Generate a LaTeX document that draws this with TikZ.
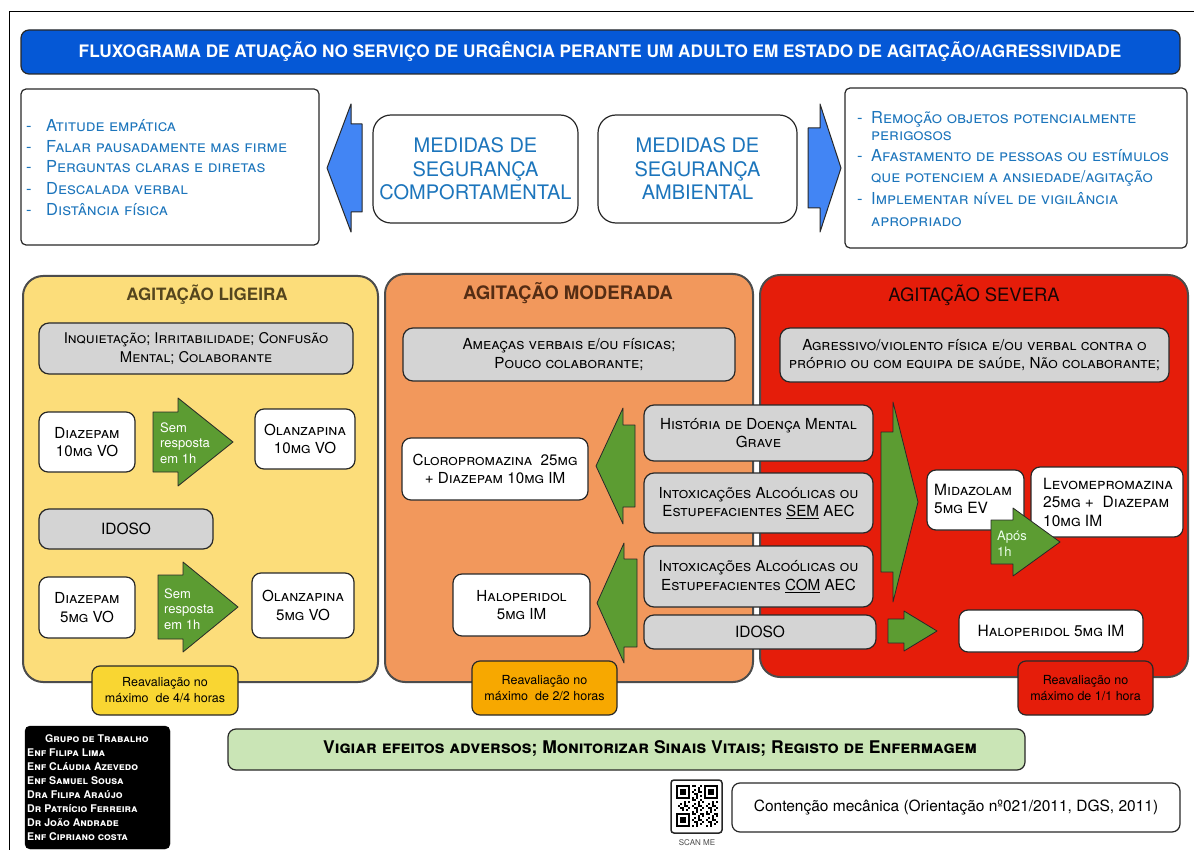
\documentclass[tikz,border=0pt]{standalone}
\usepackage{fontspec}
\setmainfont{TeX Gyre Heros}
\definecolor{titleblue}{RGB}{5,88,214}
\definecolor{textblue}{RGB}{28,117,188}
\definecolor{arrowblue}{RGB}{66,133,244}
\definecolor{panelyellow}{RGB}{252,221,122}
\definecolor{panelorange}{RGB}{242,152,92}
\definecolor{panelred}{RGB}{229,29,10}
\definecolor{reavyellow}{RGB}{249,214,50}
\definecolor{reavorange}{RGB}{247,168,0}
\definecolor{boxgray}{RGB}{212,212,212}
\definecolor{arrowgreen}{RGB}{92,156,50}
\definecolor{barGreen}{RGB}{202,229,182}
\definecolor{edge}{RGB}{40,40,40}
\definecolor{headY}{RGB}{85,70,30}
\definecolor{headO}{RGB}{85,45,20}
\definecolor{headR}{RGB}{25,5,5}
\newcommand\fs[2]{\fontsize{#1}{#2}\selectfont}
% box from its two corners: style, name, x1, y1, x2, y2, text
\newcommand\bx[7]{\node[#1, minimum width={(#5-#3)*1pt}, minimum height={(#6-#4)*1pt}] (#2) at ({(#3+#5)/2},{(#4+#6)/2}) {#7};}
% block arrow: style, base x, head x, tip x, centre y, body half height, head half height
\newcommand\blockarrow[7]{\path[#1] (#2,#5-#6) -- (#3,#5-#6) -- (#3,#5-#7) -- (#4,#5) -- (#3,#5+#7) -- (#3,#5+#6) -- (#2,#5+#6) -- cycle;}
\tikzset{
  base/.style={inner sep=0pt, outer sep=0pt, align=center},
  titlebar/.style={base, fill=titleblue, draw=edge, line width=1.2pt, rounded corners=8pt},
  infobox/.style={base, fill=white, draw=edge, line width=1.2pt, rounded corners=5pt},
  medbox/.style={base, fill=white, draw=edge, line width=1.2pt, rounded corners=18pt, text=textblue, font=\fs{20}{23.5}},
  panel/.style={base, draw=black!70, line width=2pt, rounded corners=20pt},
  graybox/.style={base, fill=boxgray, draw=edge, line width=1.2pt, rounded corners=10pt, font=\fs{15.2}{18.8}\scshape},
  drugbox/.style={base, fill=white, draw=edge, line width=1.2pt, rounded corners=9pt, font=\fs{15.2}{18.5}\scshape},
  reavbox/.style={base, draw=edge, line width=1.2pt, rounded corners=8pt, font=\fs{12.5}{16}},
  listtxt/.style={inner sep=0pt, anchor=base west, text=textblue, font=\fs{16.5}{18}\scshape},
  heading/.style={inner sep=0pt},
  gtxt/.style={inner sep=0pt, anchor=west, align=left, text=white, font=\fs{13}{15.5}},
  garrow/.style={fill=arrowgreen, draw=edge, line width=0.8pt, line join=round},
  barrow/.style={fill=arrowblue, draw=edge, line width=1pt, line join=round},
  namestxt/.style={inner sep=0pt, anchor=base west, text=white, font=\fs{10.6}{12}\bfseries\scshape}
}
\begin{document}
\begin{tikzpicture}[x=1pt, y=-1pt]
\useasboundingbox (0,0) rectangle (1194,850);
\fill[white] (0,0) rectangle (1194,850);
% page frame
\draw[line width=1pt] (9,850) -- (9,12) -- (1194,12);

% title
\bx{titlebar}{title}{21}{30}{1180}{74}{}
\node[inner sep=0pt, text=white, font=\fs{17.2}{19}\bfseries] (titletext) at (600,52) {FLUXOGRAMA DE ATUAÇÃO NO SERVIÇO DE URGÊNCIA PERANTE UM ADULTO EM ESTADO DE AGITAÇÃO/AGRESSIVIDADE};

% safety measures
\bx{infobox}{leftinfo}{21}{89}{319}{245}{}
\foreach \t/\yy [count=\i] in {Atitude empática/132, Falar pausadamente mas firme/153, Perguntas claras e diretas/173, Descalada verbal/195, Distância física/216}{
  \node[listtxt] (ld\i) at (26,\yy) {-};
  \node[listtxt] (lt\i) at (46,\yy) {\t};
}
\bx{medbox}{comport}{373}{115}{578}{223}{MEDIDAS DE\\SEGURANÇA\\COMPORTAMENTAL}
\bx{medbox}{ambient}{598}{115}{797}{223}{MEDIDAS DE\\SEGURANÇA\\AMBIENTAL}
\bx{infobox}{rightinfo}{845}{88}{1187}{248}{}
\foreach \yy [count=\i] in {124, 162, 205}{
  \node[listtxt] (rd\i) at (857,\yy) {-};
}
\foreach \t/\yy [count=\i] in {Remoção objetos potencialmente/124, perigosos/141, Afastamento de pessoas ou estímulos/162, {que potenciem a ansiedade/agitação}/183, Implementar nível de vigilância/205, apropriado/227}{
  \node[listtxt] (rt\i) at (871,\yy) {\t};
}
\blockarrow{barrow}{362}{351}{327}{168}{44}{64}
\blockarrow{barrow}{808}{820}{841}{168}{40}{64}

% panels
\bx{panel, fill=panelyellow}{mild}{23}{276}{378}{682}{}
\bx{panel, fill=panelorange}{moderate}{385}{274}{753}{682}{}
\bx{panel, fill=panelred}{severe}{760}{275}{1188}{677}{}
\node[heading, text=headY, font=\fs{17}{19}\bfseries] (hmild) at (207,295) {AGITAÇÃO LIGEIRA};
\node[heading, text=headO, font=\fs{18.6}{20}\bfseries] (hmod) at (568,293) {AGITAÇÃO MODERADA};
\node[heading, text=headR, font=\fs{18.4}{20}] (hsev) at (974,295) {AGITAÇÃO SEVERA};

% mild agitation
\bx{graybox, font=\fs{14.8}{18.5}\scshape}{gmild}{39}{323}{353}{374}{Inquietação; Irritabilidade; Confusão\\Mental; Colaborante}
\bx{drugbox}{dz10}{39}{412}{135}{472}{Diazepam\\10mg VO}
\bx{drugbox}{ol10}{255}{409}{355}{469}{Olanzapina\\10mg VO}
\bx{graybox, font=\fs{15.5}{18}}{idoso1}{39}{509}{213}{549}{IDOSO}
\bx{drugbox}{dz5}{39}{577}{135}{638}{Diazepam\\5mg VO}
\bx{drugbox}{ol5}{252}{573}{354}{638}{Olanzapina\\5mg VO}
\blockarrow{garrow}{153}{178}{233}{442}{30}{44}
\node[gtxt] (sem1) at (160,443) {Sem\\resposta\\em 1h};
\blockarrow{garrow}{158}{183}{238}{607}{32}{45}
\node[gtxt] (sem2) at (164,609) {Sem\\resposta\\em 1h};
\bx{reavbox, fill=reavyellow}{reav1}{92}{666}{238}{715}{Reavaliação no\\máximo~ de 4/4 horas}

% moderate agitation
\bx{graybox}{gmod}{403}{328}{735}{381}{Ameaças verbais e/ou físicas;\\Pouco colaborante;}
\bx{drugbox}{cloro}{402}{438}{588}{500}{Cloropromazina~ 25mg\\+ Diazepam 10mg IM}
\bx{drugbox}{halo1}{453}{574}{590}{636}{Haloperidol\\5mg IM}
\bx{reavbox, fill=reavorange}{reav2}{472}{661}{617}{715}{Reavaliação no\\máximo~ de 2/2 horas}

% conditions shared by moderate and severe
\bx{graybox}{hist}{644}{405}{873}{461}{História de Doença Mental\\Grave}
\bx{graybox}{semaec}{644}{473}{873}{533}{Intoxicações Alcoólicas ou\\Estupefacientes \underline{SEM} AEC}
\bx{graybox}{comaec}{644}{546}{873}{607}{Intoxicações Alcoólicas ou\\Estupefacientes \underline{COM} AEC}
\bx{graybox, font=\fs{15.5}{18}}{idoso2}{644}{615}{876}{649}{IDOSO}
\blockarrow{garrow}{635}{623}{596}{466}{41}{58}
\blockarrow{garrow}{637}{624}{597}{603}{44}{60}

% severe agitation
\bx{graybox}{gsev}{780}{328}{1169}{382}{Agressivo/violento física e/ou verbal contra o\\próprio ou com equipa de saúde, Não colaborante;}
\blockarrow{garrow}{881}{893}{918}{502}{70}{100}
\bx{drugbox}{mida}{927}{470}{1024}{530}{}
\node[inner sep=0pt, anchor=west, align=left, font=\fs{15.5}{18}\scshape] (midatxt) at (934,499) {Midazolam\\5mg EV};
\bx{drugbox}{levo}{1031}{467}{1183}{537}{}
\node[inner sep=0pt, anchor=west, align=left, font=\fs{15.5}{18.5}\scshape] (levotxt) at (1043,502) {Levomepromazina\\25mg +~ Diazepam\\10mg IM};
\blockarrow{garrow}{991}{1013}{1060}{542}{22}{34}
\node[gtxt, text=green!8!white] (apos) at (997,544) {Após\\1h};
\blockarrow{garrow}{888}{904}{937}{631}{12}{20}
\bx{drugbox, font=\fs{15.5}{18}\scshape}{halo2}{959}{610}{1143}{652}{Haloperidol 5mg IM}
\bx{reavbox, fill=panelred}{reav3}{1018}{661}{1153}{715}{Reavaliação no\\máximo de 1/1 hora}

% monitoring bar
\bx{base, fill=barGreen, draw=edge, line width=1.2pt, rounded corners=8pt}{vigiar}{228}{729}{1025}{770}{}
\node[inner sep=0pt, font=\fs{17.5}{19}\bfseries\scshape] (vigtxt) at (650,749) {Vigiar efeitos adversos; Monitorizar Sinais Vitais; Registo de Enfermagem};

% working group
\bx{base, fill=black, draw=black, rounded corners=5pt}{grupo}{25}{726}{170}{849}{}
\node[namestxt, anchor=base] (gtitle) at (97,742) {Grupo de Trabalho};
\foreach \t/\yy [count=\i] in {Enf Filipa Lima/756, Enf Cláudia Azevedo/770.5, Enf Samuel Sousa/784.5, Dra Filipa Araújo/798.5, Dr Patrício Ferreira/812.5, Dr João Andrade/826.5, Enf Cipriano costa/840.5}{
  \node[namestxt] (gn\i) at (27,\yy) {\t};
}

% QR code and restraint reference
\bx{base, fill=white, draw=black!85, line width=1.5pt, rounded corners=3pt}{qr}{671}{780}{722}{833}{}
\foreach \i in {0,...,20}{
  \foreach \j in {0,...,20}{
    \pgfmathtruncatemacro\infinder{((\i<8 && \j<8) || (\i>12 && \j<8) || (\i<8 && \j>12)) ? 1 : 0}
    \pgfmathtruncatemacro\modon{(mod(\i*\i*3+\j*7+\i*\j*5+11,7)<3) ? 1 : 0}
    \ifnum\infinder=0 \ifnum\modon=1 \fill (676+2*\i,785+2*\j) rectangle ++(2,2); \fi\fi
  }
}
\foreach \fx/\fy in {676/785, 704/785, 676/813}{
  \fill (\fx,\fy) rectangle ++(14,14);
  \fill[white] (\fx+2,\fy+2) rectangle ++(10,10);
  \fill (\fx+4,\fy+4) rectangle ++(6,6);
}
\node[inner sep=0pt, text=black!70, font=\fs{8}{9}] (scan) at (697,843) {SCAN ME};
\bx{base, fill=white, draw=edge, line width=1.2pt, rounded corners=8pt, font=\fs{15.5}{18}}{contencao}{732}{783}{1180}{832}{Contenção mecânica (Orientação nº021/2011, DGS, 2011)}
\end{tikzpicture}
\end{document}
